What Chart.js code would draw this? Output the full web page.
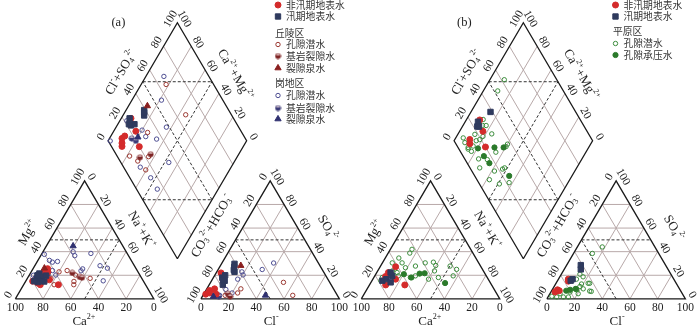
<!DOCTYPE html>
<html>
<head>
<meta charset="utf-8">
<script src="https://cdn.jsdelivr.net/npm/chart.js@4.4.0/dist/chart.umd.min.js"></script>
<style>
  html, body { margin: 0; padding: 0; background: #fff; }
  #wrap { width: 700px; height: 332px; }
</style>
</head>
<body>
<div id="wrap"><canvas id="piper" width="700" height="332"></canvas></div>
<script>
// --- geometry of one Piper panel (triangle side = 100 units) ---
const SIDE = 100;
const GAP = 34;
const H = SIDE * Math.sqrt(3) / 2;
const PANEL_B = 249.8;           // x offset of panel (b)
const PX_PER_UNIT = 1.405;
const X_MIN = -7.47, Y_MIN = -20.64;

const TICKS = [0, 20, 40, 60, 80, 100];
const GRID = [20, 40, 60, 80];

// --- data, panel (a): cation [Ca, Mg] %, anion [Cl, SO4] %, diamond [Ca+Mg, Cl+SO4] % ---
const A_CAT_DRY = [[63.9, 25.6], [67.4, 16.1], [62.9, 12], [77.1, 13.4], [68.4, 22.4], [80, 15], [73, 19], [76, 12], [65, 23]];
const A_CAT_WET = [[71.9, 21.5], [71.6, 18.8], [71.8, 14.7], [76.7, 14.2], [68, 19.7], [76, 17], [74, 20], [79, 15]];
const A_CAT_HILL_PORE = [[50.6, 24], [46.5, 20.2], [37.3, 17.4], [51.8, 12], [57, 22.9], [66, 12], [65.6, 17.4], [50.3, 14.8]];
const A_CAT_HILL_ROCK = [[47.9, 22.1], [44.2, 18.6], [42.9, 18], [64.6, 24.3]];
const A_CAT_HILL_SPRING = [[66, 26]];
const A_CAT_MOUND_PORE = [[38.3, 39.9], [38.8, 36.6], [26.2, 38.5], [60.2, 37.7], [57.7, 31.1], [53.7, 31.7], [24.8, 28.1], [20.5, 26], [38.7, 25.4], [40.7, 23.8], [28.9, 15.3], [61.2, 24], [60.7, 20.2], [76.5, 18], [77, 20], [59.1, 32.6]];
const A_CAT_MOUND_ROCK = [[72, 17], [66, 21]];
const A_CAT_MOUND_SPRING = [[35.9, 44.8]];

const A_AN_DRY = [[2.7, 7.1], [5.6, 8.5], [4, 5], [3.5, 22], [7.5, 16.7], [6, 19], [1.5, 4], [9, 4]];
const A_AN_WET = [[9.4, 29.7], [10.5, 27], [11.5, 24.5], [12.8, 22.9], [6.4, 18], [9.5, 15.3], [9.8, 12], [8, 16], [7.5, 20]];
const A_AN_HILL_PORE = [[52.6, 14], [64.8, 3], [24.6, 8.5], [24, 5], [16, 3]];
const A_AN_HILL_ROCK = [[17.2, 4.4], [20, 2]];
const A_AN_HILL_SPRING = [[14.7, 28.2]];
const A_AN_MOUND_PORE = [[18.1, 22.9], [20.3, 20.3], [31.8, 24.9], [37.3, 30.4], [18.2, 16.7], [14, 8], [20, 5], [12, 3]];
const A_AN_MOUND_ROCK = [[10.7, 3], [12, 2]];
const A_AN_MOUND_SPRING = [[45.1, 3], [8, 2]];

const A_DM_DRY = [[93, 26], [84, 24], [91, 11], [87.6, 7.6], [89, 9], [75, 20], [90, 14]];
const A_DM_WET = [[87, 39], [84.7, 36.7], [86, 38], [94, 25], [90, 23], [88, 26], [92, 22]];
const A_DM_HILL_PORE = [[82, 65.7], [55, 67], [75, 32], [78, 9], [64, 22.5], [70, 12.8], [60.5, 14.8]];
const A_DM_HILL_ROCK = [[70, 16], [63.6, 25]];
const A_DM_HILL_SPRING = [[86.4, 43.1]];
const A_DM_MOUND_PORE = [[87, 67.5], [78.7, 55.7], [63.7, 47.8], [95, 22], [80, 29], [74.6, 28.9], [65.7, 35.7], [98.4, 1.4], [65.6, 12], [53.6, 15], [44, 15], [47, 34.6]];
const A_DM_MOUND_ROCK = [[84, 18], [80, 20]];
const A_DM_MOUND_SPRING = [[80, 23]];

// --- data, panel (b) ---
const B_CAT_DRY = [[61.6, 27.2], [66.9, 16.7], [62.7, 11.8], [76.5, 11.8], [69.3, 22.3], [73, 19]];
const B_CAT_WET = [[77.1, 15.4], [73.6, 16.7], [71.8, 14], [67.9, 19.5], [67.7, 22.3]];
const B_CAT_PHREATIC = [[42.4, 42], [45.6, 38.8], [55.6, 34.6], [62.4, 30.5], [55.3, 30.5], [47, 27.8], [38.6, 30.5], [32.4, 31.1], [32.1, 28.3], [35.3, 23.7], [22, 27.8], [18.7, 25], [23.9, 19.5], [35.3, 18.1], [43.1, 16.7], [55.5, 18.1], [51.2, 19.5], [54.9, 26.4], [75.8, 18.1], [78.2, 15.4], [63, 22.3], [63.5, 19.5], [65.7, 23.7]];
const B_CAT_CONFINED = [[58.8, 20.9], [54.8, 18.1], [47.2, 21.4], [43.4, 21.7], [32.8, 13.4]];

const B_AN_DRY = [[7.1, 16.7], [8, 15], [3.8, 7.7], [5.5, 6.9], [3, 5.8]];
const B_AN_WET = [[10.2, 28.6], [12, 25], [10.2, 16.7], [9.5, 15.4]];
const B_AN_PHREATIC = [[18, 44], [13.6, 38.5], [16.8, 18.7], [23.2, 13.2], [28.9, 6.3], [18.6, 10.5], [17.6, 7.7], [9, 15.4], [13, 16.7], [18.7, 12.6], [24.3, 13.2], [27.6, 6.6], [22, 8.5], [20.4, 4.4], [14.7, 1.6], [11.1, 1.6], [6.3, 1.6], [2.5, 2.2], [7.3, 4.4], [13.8, 5.8], [16, 8.5], [13.4, 20.9]];
const B_AN_CONFINED = [[16.7, 8.5], [12.9, 7.7], [10.5, 6.9]];

const B_DM_DRY = [[90.3, 27.3], [83.2, 24.8], [89.2, 11.9], [87.4, 10.1], [74.7, 20]];
const B_DM_WET = [[85.9, 38.5], [90.8, 25.3], [89.3, 22.8], [88, 24]];
const B_DM_PHREATIC = [[89.6, 62.1], [89.6, 52.6], [83.3, 29.6], [75.7, 30.1], [81, 22.7], [94.6, 7.8], [91.4, 7], [87, 7.3], [84, 11.5], [84, 16], [87.7, 17.7], [82, 19], [60, 37.1], [60, 35], [65, 25.3], [86.3, 6.6], [83, 8], [74.6, 10], [68, 16], [70, 7], [53, 23], [58, 16.3], [52, 25], [58, 9], [49, 14.4], [42.5, 22], [88, 30], [86, 27]];
const B_DM_CONFINED = [[79.5, 14], [68, 26.3], [61.4, 32.9], [72, 15], [65, 16], [45.3, 24.9]];

// --- legend text ---
const LEGEND_A = [
  ['dry', '非汛期地表水'], ['wet', '汛期地表水'], ['head', '丘陵区'],
  ['hillPore', '孔隙潜水'], ['hillRock', '基岩裂隙水'], ['hillSpring', '裂隙泉水'],
  ['head', '岗地区'], ['moundPore', '孔隙潜水'], ['moundRock', '基岩裂隙水'], ['moundSpring', '裂隙泉水']
];
const LEGEND_A_Y = [5, 16.5, 33, 44.5, 56, 68, 83.5, 95.5, 108, 119];
const LEGEND_B = [['dry', '非汛期地表水'], ['wet', '汛期地表水'], ['head', '平原区'], ['phreatic', '孔隙潜水'], ['confined', '孔隙承压水']];
const LEGEND_B_Y = [5, 16.5, 31.5, 43.5, 55];

// --- ternary -> chart units ---
function catXY(p, ca, mg) {
  const na = 100 - ca - mg;
  return { x: p + (na + mg / 2) * SIDE / 100, y: mg / 100 * H };
}
function anXY(p, cl, so4) {
  return { x: p + SIDE + GAP + (cl + so4 / 2) * SIDE / 100, y: so4 / 100 * H };
}
function dmXY(p, camg, clso4) {
  const bx = p + SIDE + GAP / 2, by = GAP * Math.sqrt(3) / 2;
  const a = camg / 100, b = clso4 / 100;
  return { x: bx + (b - a) * SIDE / 2, y: by + (a + b) * H };
}

const GAP_PT = { x: NaN, y: NaN };
function addSeg(list, ...pts) { list.push(...pts, GAP_PT); }

function buildLines(p, grid, dash, frame) {
  GRID.forEach(k => {
    // cation
    addSeg(grid, catXY(p, 100 - k, k), catXY(p, 0, k));
    addSeg(grid, catXY(p, k, 0), catXY(p, k, 100 - k));
    addSeg(grid, catXY(p, 100 - k, 0), catXY(p, 0, 100 - k));
    // anion
    addSeg(grid, anXY(p, 0, k), anXY(p, 100 - k, k));
    addSeg(grid, anXY(p, k, 0), anXY(p, k, 100 - k));
    addSeg(grid, anXY(p, 100 - k, 0), anXY(p, 0, 100 - k));
    // diamond
    addSeg(grid, dmXY(p, k, 0), dmXY(p, k, 100));
    addSeg(grid, dmXY(p, 0, k), dmXY(p, 100, k));
  });
  addSeg(dash, catXY(p, 50, 50), catXY(p, 0, 50));
  addSeg(dash, catXY(p, 50, 0), catXY(p, 0, 50));
  addSeg(dash, anXY(p, 0, 50), anXY(p, 50, 50));
  addSeg(dash, anXY(p, 50, 0), anXY(p, 0, 50));
  addSeg(dash, dmXY(p, 50, 0), dmXY(p, 50, 100));
  addSeg(dash, dmXY(p, 0, 50), dmXY(p, 100, 50));
  addSeg(dash, dmXY(p, 100, 50), dmXY(p, 50, 100));
  addSeg(dash, dmXY(p, 50, 0), dmXY(p, 0, 50));

  addSeg(frame, catXY(p, 100, 0), catXY(p, 0, 0), catXY(p, 0, 100), catXY(p, 100, 0));
  addSeg(frame, anXY(p, 0, 0), anXY(p, 100, 0), anXY(p, 0, 100), anXY(p, 0, 0));
  addSeg(frame, dmXY(p, 0, 0), dmXY(p, 100, 0), dmXY(p, 100, 100), dmXY(p, 0, 100), dmXY(p, 0, 0));
}

const gridPts = [], dashPts = [], framePts = [];
buildLines(0, gridPts, dashPts, framePts);
buildLines(PANEL_B, gridPts, dashPts, framePts);

function pts(p, cat, an, dm) {
  return [
    ...cat.map(v => catXY(p, v[0], v[1])),
    ...an.map(v => anXY(p, v[0], v[1])),
    ...dm.map(v => dmXY(p, v[0], v[1]))
  ];
}

// circle with dark lower half, used for the "基岩裂隙水" groups
function halfMarker(color) {
  const c = document.createElement('canvas');
  c.width = 7; c.height = 7;
  const g = c.getContext('2d');
  g.beginPath(); g.arc(3.5, 3.5, 2.6, 0, Math.PI * 2); g.fillStyle = '#f4dede'; g.fill();
  g.beginPath(); g.arc(3.5, 3.5, 2.6, -0.3, Math.PI + 0.3); g.fillStyle = color; g.fill();
  g.beginPath(); g.arc(3.5, 3.5, 2.6, 0, Math.PI * 2); g.strokeStyle = color; g.lineWidth = 0.8; g.stroke();
  return c;
}

const STYLES = {
  dry:         { pointStyle: 'circle', pointRadius: 3, backgroundColor: '#d42b2b', borderColor: '#d42b2b', borderWidth: 1 },
  wet:         { pointStyle: 'rect', pointRadius: 3.8, backgroundColor: '#2f3a5e', borderColor: '#2f3a5e', borderWidth: 1 },
  hillPore:    { pointStyle: 'circle', pointRadius: 2.2, backgroundColor: 'rgba(255,255,255,0)', borderColor: '#9c3a33', borderWidth: 1 },
  hillRock:    { pointStyle: halfMarker('#7d2424'), pointRadius: 3 },
  hillSpring:  { pointStyle: 'triangle', pointRadius: 3.6, backgroundColor: '#8a1f1f', borderColor: '#8a1f1f', borderWidth: 1 },
  moundPore:   { pointStyle: 'circle', pointRadius: 2.2, backgroundColor: 'rgba(255,255,255,0)', borderColor: '#4f4f93', borderWidth: 1 },
  moundRock:   { pointStyle: halfMarker('#3b3b78'), pointRadius: 3 },
  moundSpring: { pointStyle: 'triangle', pointRadius: 3.6, backgroundColor: '#2f3070', borderColor: '#2f3070', borderWidth: 1 },
  phreatic:    { pointStyle: 'circle', pointRadius: 2.2, backgroundColor: 'rgba(255,255,255,0)', borderColor: '#3d8d3d', borderWidth: 1 },
  confined:    { pointStyle: 'circle', pointRadius: 2.6, backgroundColor: '#2b7a2b', borderColor: '#2b7a2b', borderWidth: 1 }
};

function pointSet(kind, data, order) {
  return Object.assign({ data, showLine: false, order }, STYLES[kind]);
}

const datasets = [
  { data: gridPts, showLine: true, pointRadius: 0, borderColor: '#b8a9a9', borderWidth: 1, spanGaps: false, order: 100 },
  { data: dashPts, showLine: true, pointRadius: 0, borderColor: '#333', borderWidth: 1, borderDash: [3, 2], spanGaps: false, order: 99 },
  { data: framePts, showLine: true, pointRadius: 0, borderColor: '#1a1a1a', borderWidth: 1.3, spanGaps: false, order: 98 },
  pointSet('moundPore', pts(0, A_CAT_MOUND_PORE, A_AN_MOUND_PORE, A_DM_MOUND_PORE), 20),
  pointSet('hillPore', pts(0, A_CAT_HILL_PORE, A_AN_HILL_PORE, A_DM_HILL_PORE), 19),
  pointSet('moundRock', pts(0, A_CAT_MOUND_ROCK, A_AN_MOUND_ROCK, A_DM_MOUND_ROCK), 18),
  pointSet('hillRock', pts(0, A_CAT_HILL_ROCK, A_AN_HILL_ROCK, A_DM_HILL_ROCK), 17),
  pointSet('dry', pts(0, A_CAT_DRY, A_AN_DRY, A_DM_DRY), 16),
  pointSet('wet', pts(0, A_CAT_WET, A_AN_WET, A_DM_WET), 15),
  pointSet('hillSpring', pts(0, A_CAT_HILL_SPRING, A_AN_HILL_SPRING, A_DM_HILL_SPRING), 14),
  pointSet('moundSpring', pts(0, A_CAT_MOUND_SPRING, A_AN_MOUND_SPRING, A_DM_MOUND_SPRING), 13),
  pointSet('phreatic', pts(PANEL_B, B_CAT_PHREATIC, B_AN_PHREATIC, B_DM_PHREATIC), 12),
  pointSet('confined', pts(PANEL_B, B_CAT_CONFINED, B_AN_CONFINED, B_DM_CONFINED), 11),
  pointSet('dry', pts(PANEL_B, B_CAT_DRY, B_AN_DRY, B_DM_DRY), 10),
  pointSet('wet', pts(PANEL_B, B_CAT_WET, B_AN_WET, B_DM_WET), 9)
];

// --- text helpers ---
const SERIF = '"Liberation Serif", "DejaVu Serif", serif';
const CJK = '"Noto Sans CJK SC", sans-serif';

// "Mg^{2+}", "SO_{4}^{2-}"
function drawRich(ctx, x, y, angle, str, size) {
  const parts = [];
  str.replace(/\^\{([^}]*)\}|_\{([^}]*)\}|([^^_]+)/g, (m, sup, sub, txt) => {
    if (sup !== undefined) parts.push({ t: sup, mode: 'sup' });
    else if (sub !== undefined) parts.push({ t: sub, mode: 'sub' });
    else parts.push({ t: txt, mode: '' });
  });
  const small = size * 0.62;
  let total = 0;
  parts.forEach(pt => {
    ctx.font = (pt.mode ? small : size) + 'px ' + SERIF;
    pt.w = ctx.measureText(pt.t).width;
    total += pt.w;
  });
  ctx.save();
  ctx.translate(x, y);
  ctx.rotate(angle);
  ctx.textBaseline = 'middle';
  ctx.textAlign = 'left';
  let cx = -total / 2;
  parts.forEach(pt => {
    ctx.font = (pt.mode ? small : size) + 'px ' + SERIF;
    const dy = pt.mode === 'sup' ? -size * 0.38 : pt.mode === 'sub' ? size * 0.25 : 0;
    ctx.fillText(pt.t, cx, dy);
    cx += pt.w;
  });
  ctx.restore();
}

function drawMarker(ctx, kind, x, y) {
  const s = STYLES[kind];
  ctx.save();
  if (s.pointStyle instanceof HTMLCanvasElement) {
    ctx.drawImage(s.pointStyle, x - 3.5, y - 3.5);
  } else {
    ctx.fillStyle = s.backgroundColor;
    ctx.strokeStyle = s.borderColor;
    ctx.lineWidth = 1;
    const r = s.pointRadius;
    ctx.beginPath();
    if (s.pointStyle === 'rect') {
      const h = r * Math.SQRT1_2;
      ctx.rect(x - h, y - h, 2 * h, 2 * h);
    } else if (s.pointStyle === 'triangle') {
      ctx.moveTo(x, y - r);
      ctx.lineTo(x + r * 0.87, y + r * 0.5);
      ctx.lineTo(x - r * 0.87, y + r * 0.5);
      ctx.closePath();
    } else {
      ctx.arc(x, y, r, 0, Math.PI * 2);
    }
    ctx.fill();
    ctx.stroke();
  }
  ctx.restore();
}

const RAD60 = Math.PI / 3;
const NL = { x: -Math.sqrt(3) / 2, y: 0.5 };   // outward normal, left-leaning edges
const NR = { x: Math.sqrt(3) / 2, y: 0.5 };    // outward normal, right-leaning edges

const labelsPlugin = {
  id: 'piperText',
  beforeDraw(chart) {
    const ctx = chart.ctx;
    ctx.save();
    ctx.fillStyle = '#fff';
    ctx.fillRect(0, 0, chart.width, chart.height);
    ctx.restore();
  },
  afterDatasetsDraw(chart) {
    const ctx = chart.ctx;
    const sx = chart.scales.x, sy = chart.scales.y;
    const P = (pt, dx = 0, dy = 0) => [sx.getPixelForValue(pt.x + dx), sy.getPixelForValue(pt.y + dy)];
    ctx.save();
    ctx.fillStyle = '#222';
    const off = 5.6;
    [0, PANEL_B].forEach((p, idx) => {
      TICKS.forEach(k => {
        let q;
        // cation: Ca along base, Mg on left edge, Na+K on right edge
        q = P(catXY(p, k, 0), 0, -6.9); drawRich(ctx, q[0], q[1], 0, String(k), 11.5);
        q = P(catXY(p, 100 - k, k), NL.x * off, NL.y * off); drawRich(ctx, q[0], q[1], -RAD60, String(k), 11.5);
        q = P(catXY(p, 0, 100 - k), NR.x * off, NR.y * off); drawRich(ctx, q[0], q[1], RAD60, String(k), 11.5);
        // anion: Cl along base, CO3+HCO3 on left edge, SO4 on right edge
        q = P(anXY(p, k, 0), 0, -6.9); drawRich(ctx, q[0], q[1], 0, String(k), 11.5);
        q = P(anXY(p, 0, 100 - k), NL.x * off, NL.y * off); drawRich(ctx, q[0], q[1], -RAD60, String(k), 11.5);
        q = P(anXY(p, 100 - k, k), NR.x * off, NR.y * off); drawRich(ctx, q[0], q[1], RAD60, String(k), 11.5);
        // diamond: Cl+SO4 on upper-left edge, Ca+Mg on upper-right edge
        q = P(dmXY(p, 100, k), NL.x * off, NL.y * off); drawRich(ctx, q[0], q[1], -RAD60, String(k), 11.5);
        q = P(dmXY(p, k, 100), NR.x * off, NR.y * off); drawRich(ctx, q[0], q[1], RAD60, String(k), 11.5);
      });
      const T = (ux, uy, ang, str, size) => {
        const q = P({ x: p + ux, y: uy });
        drawRich(ctx, q[0], q[1], ang, str, size);
      };
      T(9.5, 48.4, -RAD60, 'Mg^{2+}', 13);
      T(90.7, 50.5, RAD60, 'Na^{+}+K^{+}', 13);
      T(49.5, -17, 0, 'Ca^{2+}', 13);
      T(142, 53.4, -RAD60, 'CO_{3}^{2-}+HCO_{3}^{-}', 13);
      T(225.3, 52, RAD60, 'SO_{4}^{2-}', 13);
      T(184.7, -17, 0, 'Cl^{-}', 13);
      T(76.5, 166, -RAD60, 'Cl^{-}+SO_{4}^{2-}', 13);
      T(158.4, 164.4, RAD60, 'Ca^{2+}+Mg^{2+}', 13);
      T(74.4, 202.8, 0, idx === 0 ? '(a)' : '(b)', 12.5);
    });

    // legends
    const drawLegend = (rows, ys, markX, textX, headX) => {
      rows.forEach((row, i) => {
        const y = ys[i];
        ctx.font = '9.8px ' + CJK;
        ctx.textBaseline = 'middle';
        ctx.textAlign = 'left';
        ctx.fillStyle = '#333';
        if (row[0] === 'head') {
          ctx.fillText(row[1], headX, y);
        } else {
          drawMarker(ctx, row[0], markX, y);
          ctx.fillStyle = '#333';
          ctx.fillText(row[1], textX, y);
        }
      });
    };
    drawLegend(LEGEND_A, LEGEND_A_Y, 278, 286, 275);
    drawLegend(LEGEND_B, LEGEND_B_Y, 615.5, 623.5, 613);
    ctx.restore();
  }
};

new Chart(document.getElementById('piper'), {
  type: 'scatter',
  data: { datasets },
  options: {
    responsive: false,
    animation: false,
    devicePixelRatio: 1,
    layout: { padding: 0 },
    plugins: { legend: { display: false }, tooltip: { enabled: false } },
    scales: {
      x: { type: 'linear', display: false, min: X_MIN, max: X_MIN + 700 / PX_PER_UNIT },
      y: { type: 'linear', display: false, min: Y_MIN, max: Y_MIN + 332 / PX_PER_UNIT }
    }
  },
  plugins: [labelsPlugin]
});
</script>
</body>
</html>
